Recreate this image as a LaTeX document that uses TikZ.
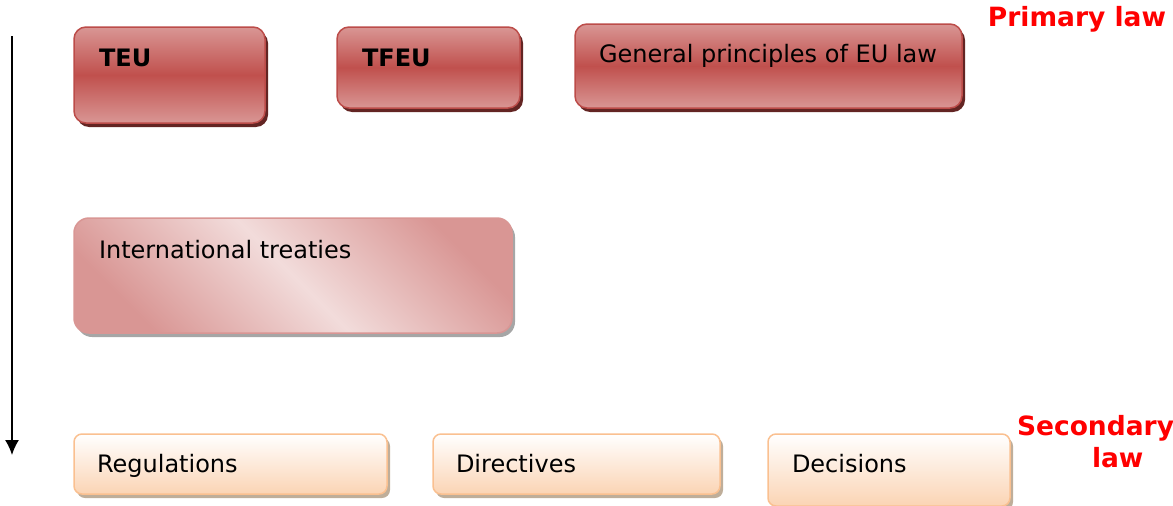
\documentclass[tikz,border=0pt]{standalone}
\usepackage{fontspec}
\setmainfont{DejaVu Sans}
\usepackage{tikz}
\usetikzlibrary{positioning}
\usetikzlibrary{calc}
\usetikzlibrary{shadows}
\usetikzlibrary{arrows.meta}
\usepackage{xcolor}
\definecolor{primlight}{HTML}{D99694}
\definecolor{primdark}{HTML}{C0504D}
\definecolor{primborder}{HTML}{BC4C49}
\definecolor{primshadow}{HTML}{632523}
\definecolor{treatylight}{HTML}{F2DCDB}
\definecolor{treatydark}{HTML}{D99694}
\definecolor{treatyshadow}{HTML}{A6A6A6}
\definecolor{seclight}{HTML}{FFFFFF}
\definecolor{secdark}{HTML}{FBD4B4}
\definecolor{secborder}{HTML}{FAC090}
\definecolor{secshadow}{HTML}{BFAE9A}
\definecolor{lawred}{HTML}{FF0000}
\tikzset{
	x=1pt,
	y=-1pt,
	every node/.style={outer sep=0pt},
	primary/.style={anchor=north west, draw=primborder, line width=1.5pt, rounded corners=12pt, top color=primlight, bottom color=primlight, middle color=primdark, drop shadow={shadow xshift=3pt, shadow yshift=-4pt, fill=primshadow, opacity=1}},
	treaty/.style={anchor=north west, draw=treatydark, line width=1.5pt, rounded corners=15pt, top color=treatydark, bottom color=treatydark, middle color=treatylight, shading angle=-45, drop shadow={shadow xshift=3pt, shadow yshift=-4pt, fill=treatyshadow, opacity=1}},
	secondary/.style={anchor=north west, draw=secborder, line width=1.5pt, rounded corners=8pt, top color=seclight, bottom color=secdark, drop shadow={shadow xshift=3pt, shadow yshift=-4pt, fill=secshadow, opacity=1}},
	lbl/.style={anchor=base west, inner sep=0pt, font=\fontsize{24}{28}\selectfont},
	blbl/.style={anchor=base west, inner sep=0pt, font=\fontsize{24}{28}\selectfont\bfseries},
	lawtag/.style={text=lawred, inner sep=0pt, align=left, font=\fontsize{26.5}{32}\selectfont\bfseries}
}

\begin{document}
\begin{tikzpicture}
	\useasboundingbox (0,0) rectangle (1173,506);
	
	% Primary law
	\node (teu) [primary, minimum width=191pt, minimum height=96pt] at (74,27) {};
	\node (tfeu) [primary, minimum width=183pt, minimum height=81pt] at (337,27) {};
	\node (gen) [primary, minimum width=387pt, minimum height=84pt] at (575,24) {};
	\node (teu text) [blbl] at ($(teu.north west)+(25,39)$) {TEU};
	\node (tfeu text) [blbl] at ($(tfeu.north west)+(25,39)$) {TFEU};
	\node (gen text) [lbl] at ($(gen.north west)+(24,38)$) {General principles of EU law};
	
	% Treaties
	\node (intl) [treaty, minimum width=438pt, minimum height=115pt] at (74,218) {};
	\node (intl text) [lbl] at ($(intl.north west)+(25,40)$) {International treaties};
	
	% Secondary law
	\node (reg) [secondary, minimum width=313pt, minimum height=60pt] at (74,434) {};
	\node (dir) [secondary, minimum width=287pt, minimum height=60pt] at (433,434) {};
	\node (dec) [secondary, minimum width=242pt, minimum height=72pt] at (768,434) {};
	\node (reg text) [lbl] at ($(reg.north west)+(23,38)$) {Regulations};
	\node (dir text) [lbl] at ($(dir.north west)+(23,38)$) {Directives};
	\node (dec text) [lbl] at ($(dec.north west)+(24,38)$) {Decisions};
	
	% Tags
	\node (primary) [lawtag, anchor=base east] at (1166,26) {Primary law};
	\node (secondary) [lawtag, anchor=north west] at (1017,415) {Secondary\\\hspace{75pt}law};
	
	% Hierarchy arrow
	\coordinate (top) at (12,36);
	\coordinate (bottom) at (12,455);
	\draw[line width=1.5pt, -{Latex[length=15pt,width=14pt]}] (top) -- (bottom);
\end{tikzpicture}
\end{document}
